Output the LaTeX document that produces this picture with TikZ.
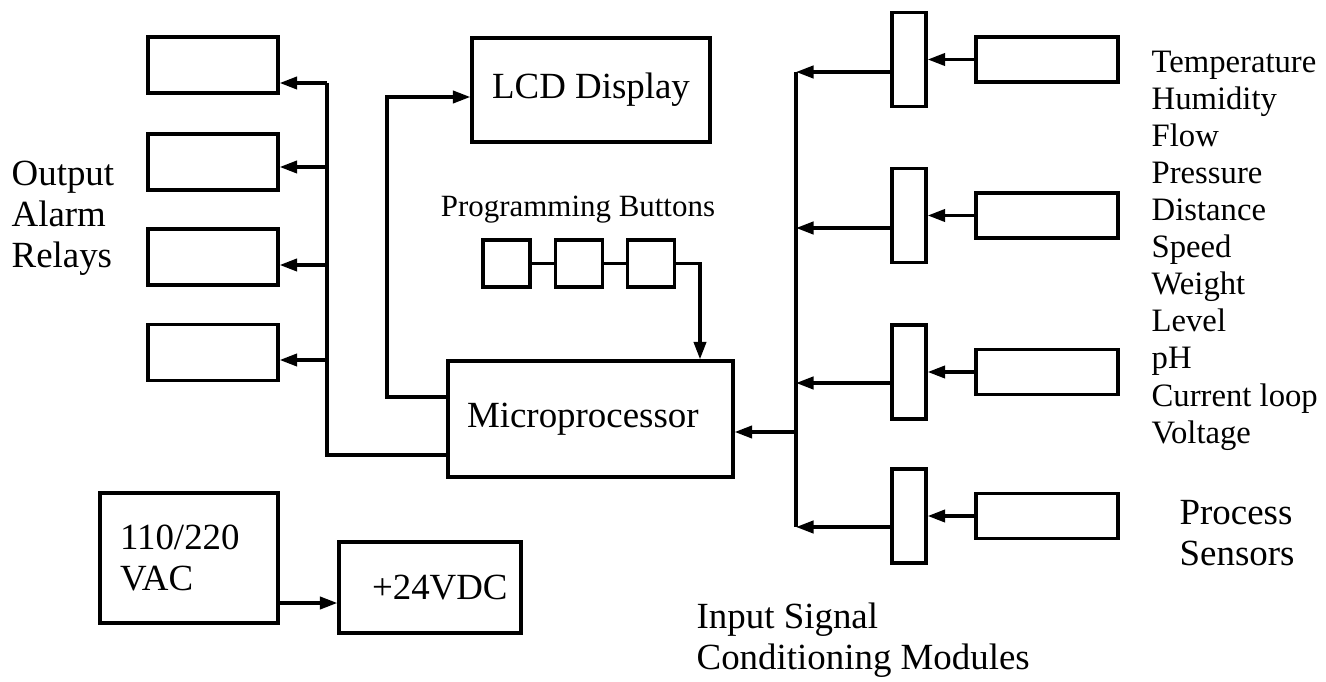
\documentclass[tikz,border=0pt]{standalone}
\usepackage{fontspec}
\setmainfont{Liberation Serif}
\usepackage{tikz}
\usetikzlibrary{positioning, calc, arrows.meta}

\begin{document}
\begin{tikzpicture}[x=0.02cm, y=-0.02cm, line width=1.9pt,
    blk/.style={draw, rectangle, inner sep=0pt, line width=1.9pt},
    arr/.style={-{Triangle[length=10pt, width=7pt]}},
    big/.style={font=\fontsize{21}{23.4}\selectfont},
    small/.style={font=\fontsize{17.6}{20.8}\selectfont},
    kindtxt/.style={font=\fontsize{18.6}{21}\selectfont}]

  \useasboundingbox (0,0) rectangle (1326,682);

  % output relays
  \foreach \i/\yc/\ya in {1/65/83, 2/162/167, 3/257/265, 4/352.5/360}
  {
    \node[blk, minimum width=2.6cm, minimum height=1.12cm] (relay\i) at (213,\yc) {};
    \coordinate (rtap\i) at (327,\ya);
    \draw[arr] (rtap\i) -- (rtap\i -| relay\i.east);
  }
  \node[big, anchor=west, align=left, inner sep=0pt] (outlbl) at (10,218) {Output\\Alarm\\Relays};

  \node[blk, big, minimum width=4.76cm, minimum height=2.08cm] (lcd) at (591,90) {LCD Display};
  \node[blk, big, align=left, text width=4.94cm, minimum width=5.7cm, minimum height=2.32cm]
    (micro) at (590.5,419) {Microprocessor};

  \coordinate (rbus) at (327,455);
  \draw (rtap1) -- (rbus) -- (rbus -| micro.west);
  \coordinate (lcdtap) at (387,397);
  \coordinate (lcdin) at (387,97);
  \draw[arr] (lcdtap -| micro.west) -- (lcdtap) -- (lcdin) -- (lcdin -| lcd.west);

  % buttons
  \node[small] (btnlbl) at (578,210) {Programming Buttons};
  \foreach \i/\xc in {1/506.5, 2/579, 3/651}
    \node[blk, minimum size=0.94cm] (btn\i) at (\xc,263.5) {};
  \draw (btn1) -- (btn2) (btn2) -- (btn3);
  \coordinate (btap) at (700,263.5);
  \draw[arr] (btn3.east) -- (btap) -- (btap |- micro.north);

  % inputs
  \foreach \i/\yc/\yo in {1/59.5/72, 2/215.5/228, 3/372/383, 4/516/527}
  {
    \node[blk, minimum width=0.68cm, minimum height=1.88cm] (mod\i) at (909,\yc) {};
    \node[blk, minimum width=2.84cm, minimum height=0.9cm] (sens\i) at (1047,\yc) {};
    \draw[arr] (sens\i) -- (mod\i);
    \coordinate (itap\i) at (796,\yo);
    \draw[arr] (itap\i -| mod\i.west) -- (itap\i);
  }
  \draw (itap1) -- (itap4);
  \coordinate (mtap) at (796,432);
  \draw[arr] (mtap) -- (mtap -| micro.east);

  \foreach \lbl [count=\k] in {Temperature, Humidity, Flow, Pressure, Distance,
      Speed, Weight, Level, pH, Current loop, Voltage}
    \node[kindtxt, anchor=base west, inner sep=0pt] (kind\k) at (1150, 36+37*\k) {\lbl};

  \node[big, anchor=west, align=left, inner sep=0pt] (senslbl) at (1178,533) {Process\\Sensors};
  \node[big, anchor=west, align=left, inner sep=0pt] (modlbl) at (695,640) {Input Signal\\Conditioning Modules};

  % power
  \node[blk, big, align=left, text width=2.76cm, minimum width=3.56cm, minimum height=2.6cm]
    (vac) at (189,558) {110/220\\VAC};
  \node[blk, big, align=left, text width=2.32cm, minimum width=3.64cm, minimum height=1.82cm]
    (vdc) at (430,587.5) {+24VDC};
  \coordinate (ptap) at (278,603);
  \draw[arr] (ptap) -- (ptap -| vdc.west);
\end{tikzpicture}
\end{document}
